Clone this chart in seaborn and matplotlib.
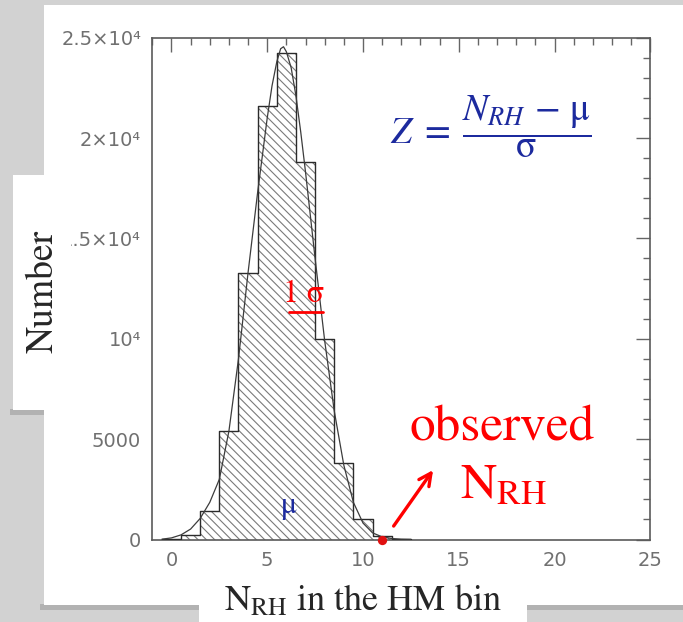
import numpy as np
import pandas as pd
import matplotlib
matplotlib.use("Agg")
import matplotlib.pyplot as plt
import seaborn as sns
from matplotlib.patches import Rectangle
from matplotlib.ticker import MultipleLocator

# Simulated counts of N_RH per integer value
n_rh_values = [0, 1, 2, 3, 4, 5, 6, 7, 8, 9, 10, 11, 12]
n_counts = [40, 200, 1400, 5400, 13300, 21600, 24250, 18800, 10000, 3800, 1000, 170, 25]
bin_edges = [-0.5, 0.5, 1.5, 2.5, 3.5, 4.5, 5.5, 6.5, 7.5, 8.5, 9.5, 10.5, 11.5, 12.5]

# Fitted model curve
curve_x = [-0.5, 0.0, 0.5, 1.0, 1.5, 2.0, 2.5, 3.0, 3.5, 4.0, 4.5, 5.0, 5.25, 5.5,
           5.7, 5.85, 6.0, 6.25, 6.5, 6.75, 7.0, 7.5, 8.0, 8.5, 9.0, 9.5, 10.0,
           10.5, 11.0, 11.5, 12.0, 12.5]
curve_y = [15, 80, 230, 520, 1050, 1850, 3000, 5400, 9000, 13300, 17300, 21000,
           22600, 23800, 24450, 24550, 24300, 23500, 22100, 20300, 18300, 14000,
           9900, 6400, 3700, 1850, 820, 330, 130, 50, 15, 5]

# Observed value and one-sigma marker
observed_n_rh = [11]
observed_level = [0]
sigma_bar_x = [6.15, 7.92]
sigma_bar_y = [11315, 11315]

x_ticks = [0, 5, 10, 15, 20, 25]
x_tick_labels = ["0", "5", "10", "15", "20", "25"]
y_ticks = [0, 5000, 10000, 15000, 20000, 25000]
y_tick_labels = ["0", "5000", "10⁴", "1.5×10⁴", "2×10⁴", "2.5×10⁴"]

sns.set_style("white")
plt.rcParams["font.family"] = ["DejaVu Sans"]
plt.rcParams["mathtext.fontset"] = "stix"
plt.rcParams["hatch.linewidth"] = 0.8

W, H = 683, 622
fig = plt.figure(figsize=(W / 100, H / 100), dpi=100, facecolor="#d2d2d2")


def fig_rect(x0, y0, x1, y1, **kw):
    """Rectangle given in pixel coordinates measured from the top-left corner."""
    r = Rectangle((x0 / W, 1 - y1 / H), (x1 - x0) / W, (y1 - y0) / H,
                  transform=fig.transFigure, **kw)
    fig.add_artist(r)
    return r


# Slide panels with soft shadows
fig_rect(40, 604, 683, 610, facecolor="#8c8c8c", edgecolor="none", alpha=0.45, zorder=-12)
fig_rect(44, 5, 683, 605, facecolor="white", edgecolor="none", zorder=-10)
fig_rect(199, 598, 527, 622, facecolor="white", edgecolor="none", zorder=-9)
fig_rect(10, 409, 44, 415, facecolor="#8c8c8c", edgecolor="none", alpha=0.45, zorder=9)
fig_rect(13, 175, 71, 410, facecolor="white", edgecolor="none", zorder=10)

ax = fig.add_axes([152.3 / W, 1 - 539.5 / H, (650.3 - 152.3) / W, (539.5 - 37.7) / H])
ax.set_facecolor("white")

df = pd.DataFrame({"n_rh": n_rh_values, "count": n_counts})
sns.histplot(data=df, x="n_rh", weights="count", bins=bin_edges, element="step",
             fill=True, facecolor="white", edgecolor="#7a7a7a", linewidth=0,
             alpha=1, hatch="\\\\\\\\", ax=ax, zorder=1)
sns.histplot(data=df, x="n_rh", weights="count", bins=bin_edges, element="step",
             fill=False, color="#2b2b2b", linewidth=1.0, ax=ax, zorder=3)
sns.lineplot(x=curve_x, y=curve_y, color="#3c3c3c", linewidth=0.9, ax=ax, zorder=4)

sns.scatterplot(x=observed_n_rh, y=observed_level, color="#e01010", s=45,
                linewidth=0, clip_on=False, ax=ax, zorder=6)

red = "#ff0000"
blue = "#1c2a9e"
serif = "STIXGeneral"

ax.plot(sigma_bar_x, sigma_bar_y, color=red, linewidth=2.0, zorder=5)
ax.text(6.89, 11830, "1 σ", color=red, fontsize=23, family=serif,
        ha="center", va="baseline", zorder=6)
ax.text(6.09, 1670, "μ", color=blue, fontsize=22, family=serif,
        ha="center", va="center", zorder=6)
ax.text(16.69, 20550, r"$Z\;=\;\dfrac{N_{RH}\,-\,\mathrm{μ}}{\mathrm{σ}}$", color=blue,
        fontsize=27, ha="center", va="center")
ax.text(17.27, 4955, "observed", color=red, fontsize=37, family=serif,
        ha="center", va="baseline")
ax.text(17.32, 2067, r"$\mathrm{N_{RH}}$", color=red, fontsize=36,
        ha="center", va="baseline")
ax.annotate("", xy=(13.66, 3460), xytext=(11.6, 670),
            arrowprops=dict(arrowstyle="->", color=red, lw=2.4,
                            mutation_scale=22, shrinkA=0, shrinkB=0))

ax.set_xlim(-1, 25)
ax.set_ylim(0, 25000)
ax.set_xlabel("")
ax.set_ylabel("")
ax.set_xticks(x_ticks)
ax.set_xticklabels(x_tick_labels)
ax.set_yticks(y_ticks)
ax.set_yticklabels(y_tick_labels)
ax.xaxis.set_minor_locator(MultipleLocator(1))
ax.yaxis.set_minor_locator(MultipleLocator(1000))
ax.tick_params(which="both", direction="in", top=True, right=True,
               color="#666666", width=1.0)
ax.tick_params(which="major", length=10, labelsize=14, labelcolor="#707070", pad=8)
ax.tick_params(which="minor", length=5)
for s in ax.spines.values():
    s.set_color("#5a5a5a")
    s.set_linewidth(1.2)

fig.text(43.5 / W, 1 - 291.5 / H, "Number", rotation=90, fontsize=27, family=serif,
         ha="center", va="center", zorder=11)
fig.text(362.5 / W, 1 - 611 / H, r"$\mathrm{N_{RH}}$ in the HM bin", fontsize=26,
         family=serif, ha="center", va="baseline", zorder=11)

fig.savefig("out.png", dpi=100, facecolor=fig.get_facecolor())
